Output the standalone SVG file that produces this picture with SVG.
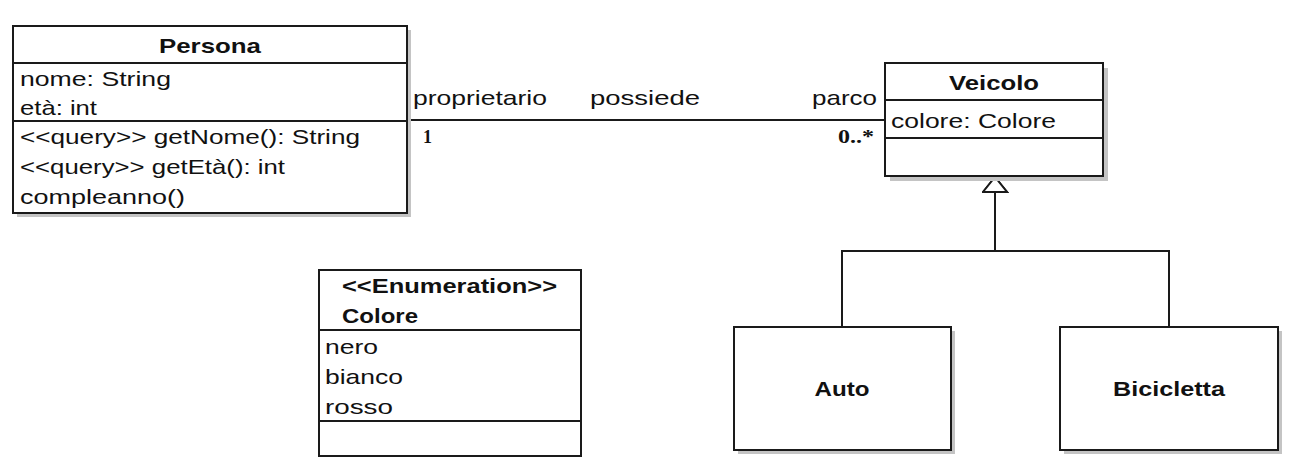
<svg xmlns="http://www.w3.org/2000/svg" width="1296" height="463" viewBox="0 0 1296 463">
<style>
  .box{fill:#ffffff;stroke:#1a1a1a;stroke-width:2}
  .shadow{fill:#c4c4c4;stroke:none}
  .div{stroke:#1a1a1a;stroke-width:2;fill:none}
  .t{font-family:"Liberation Sans",Arial,sans-serif;font-size:21px;fill:#111}
  .b{font-weight:bold}
  .m{font-family:"Liberation Serif","Times New Roman",serif;font-size:18px;font-weight:bold;fill:#111}
  .edge{stroke:#1a1a1a;stroke-width:2;fill:none}
</style>
<defs>
  <marker id="gen" markerUnits="userSpaceOnUse" markerWidth="18" markerHeight="28" refX="16" refY="13" orient="auto" viewBox="0 0 18 28">
    <path d="M1,1 L16,13 L1,25 Z" fill="#ffffff" stroke="#1a1a1a" stroke-width="2"/>
  </marker>
</defs>
<rect width="1296" height="463" fill="#ffffff"/>

<g id="connectors">
  <line class="edge" x1="407" y1="120" x2="885" y2="120"/>
  <path class="edge" d="M842,327 V251 H995 V177" marker-end="url(#gen)"/>
  <path class="edge" d="M1169,327 V251 H995 V177" marker-end="url(#gen)"/>
  <text class="t" x="413" y="105" textLength="134" lengthAdjust="spacingAndGlyphs">proprietario</text>
  <text class="t" x="590" y="105" textLength="110" lengthAdjust="spacingAndGlyphs">possiede</text>
  <text class="t" x="812" y="105" textLength="65" lengthAdjust="spacingAndGlyphs">parco</text>
  <text class="m" x="423" y="143">1</text>
  <text class="m" x="838" y="143" textLength="36" lengthAdjust="spacingAndGlyphs">0..*</text>
</g>

<g id="persona">
  <rect class="shadow" x="17" y="30" width="394" height="187"/>
  <rect class="box" x="13" y="26" width="394" height="187"/>
  <line class="div" x1="13" y1="63" x2="407" y2="63"/>
  <line class="div" x1="13" y1="121" x2="407" y2="121"/>
  <text class="t b" x="210" y="53" text-anchor="middle" textLength="102" lengthAdjust="spacingAndGlyphs">Persona</text>
  <text class="t" x="20" y="86" textLength="151" lengthAdjust="spacingAndGlyphs">nome: String</text>
  <text class="t" x="20" y="115" textLength="77" lengthAdjust="spacingAndGlyphs">età: int</text>
  <text class="t" x="20" y="144" textLength="340" lengthAdjust="spacingAndGlyphs">&lt;&lt;query&gt;&gt; getNome(): String</text>
  <text class="t" x="20" y="174" textLength="265" lengthAdjust="spacingAndGlyphs">&lt;&lt;query&gt;&gt; getEtà(): int</text>
  <text class="t" x="20" y="204" textLength="165" lengthAdjust="spacingAndGlyphs">compleanno()</text>
</g>

<g id="veicolo">
  <rect class="shadow" x="890" y="68" width="218" height="113"/>
  <rect class="box" x="885" y="63" width="218" height="113"/>
  <line class="div" x1="885" y1="100" x2="1103" y2="100"/>
  <line class="div" x1="885" y1="138" x2="1103" y2="138"/>
  <text class="t b" x="994" y="90" text-anchor="middle" textLength="90" lengthAdjust="spacingAndGlyphs">Veicolo</text>
  <text class="t" x="891" y="128" textLength="165" lengthAdjust="spacingAndGlyphs">colore: Colore</text>
</g>

<g id="colore">
  <rect class="box" x="319" y="270" width="262" height="186"/>
  <line class="div" x1="319" y1="330" x2="581" y2="330"/>
  <line class="div" x1="319" y1="421" x2="581" y2="421"/>
  <text class="t b" x="342" y="293" textLength="215" lengthAdjust="spacingAndGlyphs">&lt;&lt;Enumeration&gt;&gt;</text>
  <text class="t b" x="342" y="323" textLength="76" lengthAdjust="spacingAndGlyphs">Colore</text>
  <text class="t" x="325" y="354" textLength="53" lengthAdjust="spacingAndGlyphs">nero</text>
  <text class="t" x="325" y="384" textLength="78" lengthAdjust="spacingAndGlyphs">bianco</text>
  <text class="t" x="325" y="414" textLength="68" lengthAdjust="spacingAndGlyphs">rosso</text>
</g>

<g id="auto">
  <rect class="shadow" x="738" y="331" width="217" height="123"/>
  <rect class="box" x="734" y="327" width="217" height="123"/>
  <text class="t b" x="842" y="396" text-anchor="middle" textLength="55" lengthAdjust="spacingAndGlyphs">Auto</text>
</g>

<g id="bicicletta">
  <rect class="shadow" x="1064" y="331" width="218" height="123"/>
  <rect class="box" x="1060" y="327" width="218" height="123"/>
  <text class="t b" x="1169" y="396" text-anchor="middle" textLength="112" lengthAdjust="spacingAndGlyphs">Bicicletta</text>
</g>
</svg>
